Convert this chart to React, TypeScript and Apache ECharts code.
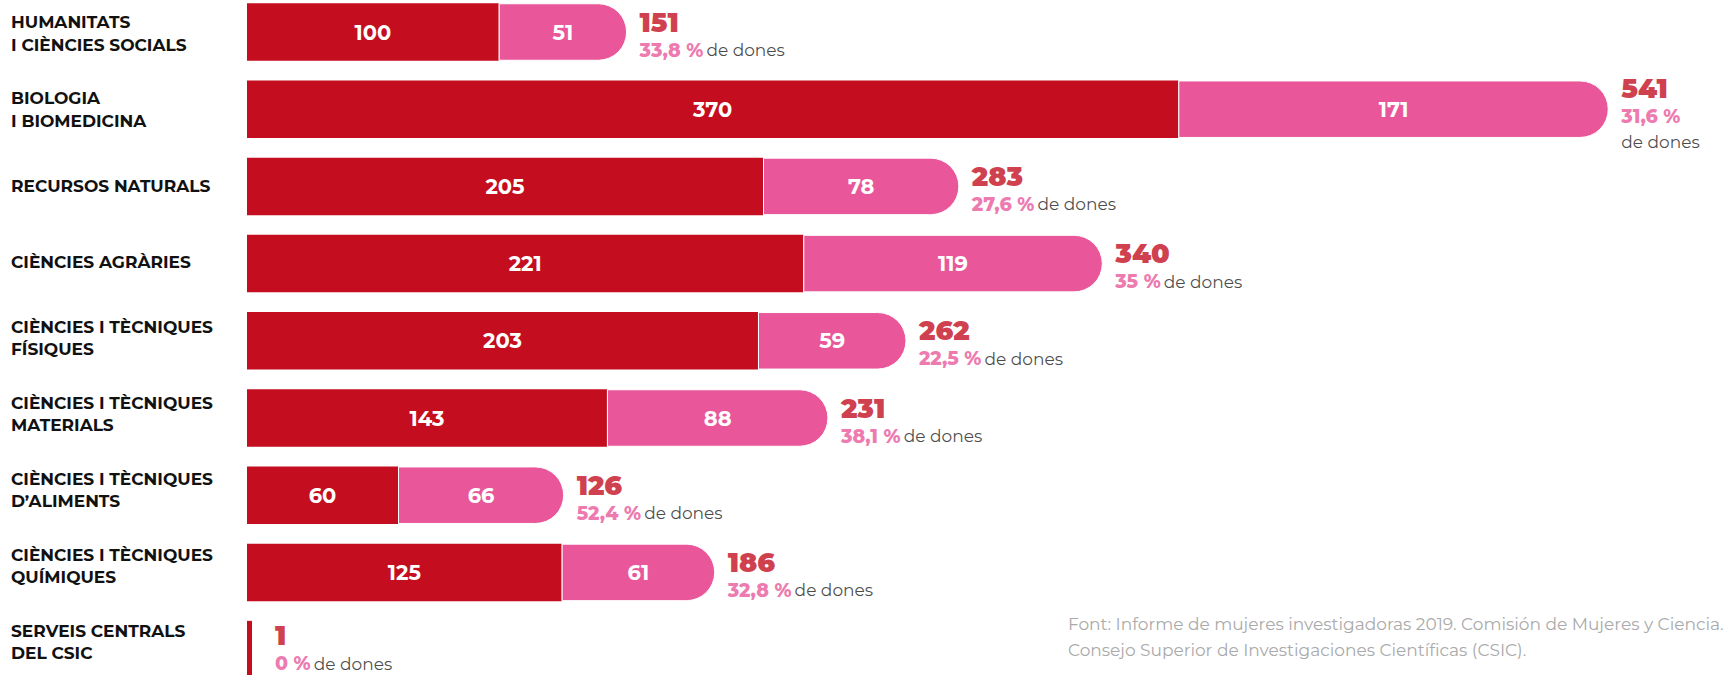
import React, { useEffect, useRef } from "react";
import * as echarts from "echarts";

const categories = [
  "HUMANITATS\nI CIÈNCIES SOCIALS",
  "BIOLOGIA\nI BIOMEDICINA",
  "RECURSOS NATURALS",
  "CIÈNCIES AGRÀRIES",
  "CIÈNCIES I TÈCNIQUES\nFÍSIQUES",
  "CIÈNCIES I TÈCNIQUES\nMATERIALS",
  "CIÈNCIES I TÈCNIQUES\nD’ALIMENTS",
  "CIÈNCIES I TÈCNIQUES\nQUÍMIQUES",
  "SERVEIS CENTRALS\nDEL CSIC",
];
const men = [100, 370, 205, 221, 203, 143, 60, 125, 1];
const women = [51, 171, 78, 119, 59, 88, 66, 61, 0];
const totals = [151, 541, 283, 340, 262, 231, 126, 186, 1];
const pctWomen = ["33,8", "31,6", "27,6", "35", "22,5", "38,1", "52,4", "32,8", "0"];
const sourceLines = [
  "Font: Informe de mujeres investigadoras 2019. Comisión de Mujeres y Ciencia.",
  "Consejo Superior de Investigaciones Científicas (CSIC).",
];

const RED = "#C40D1E";
const PINK = "#E9579A";
const FONT = "Montserrat, Inter, sans-serif";

export default function App() {
  const ref = useRef<HTMLDivElement>(null);
  useEffect(() => {
    if (!ref.current) return;
    const chart = echarts.init(ref.current, null, { renderer: "svg" });
    const option: any = {
      animation: false,
      textStyle: { fontFamily: FONT },
      grid: [
        { left: 247, top: 32, height: 617.6, width: 1472.5, containLabel: false },
        { left: 247, top: 33.7, height: 608.3, width: 1472.5, containLabel: false },
      ],
      xAxis: [
        { type: "value", min: 0, max: 585, show: false, gridIndex: 0 },
        { type: "value", min: 0, max: 585, show: false, gridIndex: 1 },
      ],
      yAxis: [
        {
          type: "category",
          gridIndex: 0,
          inverse: true,
          boundaryGap: false,
          data: categories,
          axisLine: { show: false },
          axisTick: { show: false },
          splitLine: { show: false },
          axisLabel: { show: false },
        },
        {
          type: "category",
          gridIndex: 1,
          inverse: true,
          boundaryGap: false,
          data: categories,
          axisLine: { show: false },
          axisTick: { show: false },
          splitLine: { show: false },
          axisLabel: {
            align: "left",
            margin: 236,
            color: "#111",
            fontWeight: "bold",
            fontSize: 17,
            lineHeight: 22.5,
            fontFamily: FONT,
          },
        },
      ],
      series: [
        {
          type: "bar",
          name: "Homes",
          stack: "t",
          barWidth: 57.5,
          barMinHeight: 5,
          clip: false,
          itemStyle: { color: RED },
          label: {
            show: true,
            position: "inside",
            color: "#fff",
            fontWeight: "bold",
            fontSize: 21,
            fontFamily: FONT,
          },
          data: men.map((v, i) =>
            women[i] === 0 ? { value: v, label: { show: false } } : v
          ),
        },
        {
          type: "bar",
          name: "Dones",
          stack: "t",
          barWidth: 57.5,
          clip: false,
          itemStyle: {
            color: PINK,
            borderColor: "#fff",
            borderWidth: 1,
            borderRadius: [0, 29, 29, 0],
          },
          label: {
            show: true,
            position: "inside",
            color: "#fff",
            fontWeight: "bold",
            fontSize: 21,
            fontFamily: FONT,
          },
          data: women.map((v) => (v === 0 ? "-" : v)),
        },
        {
          type: "scatter",
          symbolSize: 1,
          clip: false,
          itemStyle: { color: "rgba(0,0,0,0)" },
          silent: true,
          data: totals.map((t, i) => {
            const big = i === 1;
            const tiny = t < 5;
            return {
              value: [t, i],
              label: {
                show: true,
                position: "right",
                distance: 0,
                offset: big ? [12, 5] : tiny ? [25, -1] : [12, 3],
                formatter: big
                  ? `{t|${t}}\n{p|${pctWomen[i]} %}\n{d|de dones}`
                  : `{t|${t}}\n{p|${pctWomen[i]} %} {d|de dones}`,
                rich: {
                  t: {
                    fontSize: 27,
                    fontWeight: 900,
                    color: RED,
                    lineHeight: 30,
                    fontFamily: FONT,
                  },
                  p: {
                    fontSize: 19,
                    fontWeight: 800,
                    color: PINK,
                    lineHeight: 26,
                    fontFamily: FONT,
                  },
                  d: {
                    fontSize: 17,
                    color: "#1a1a1a",
                    lineHeight: 26,
                    fontFamily: FONT,
                  },
                },
              },
            };
          }),
        },
      ],
      graphic: sourceLines.map((s, i) => ({
        type: "text",
        left: 1068,
        top: 615 + i * 26,
        style: {
          text: s,
          fill: "#aaaaaa",
          fontSize: 17,
          fontFamily: FONT,
        },
      })),
    };
    chart.setOption(option);
    return () => chart.dispose();
  }, []);
  return (
    <div
      ref={ref}
      style={{ position: "absolute", left: 0, top: 0, width: 1730, height: 675, background: "#fff" }}
    />
  );
}
